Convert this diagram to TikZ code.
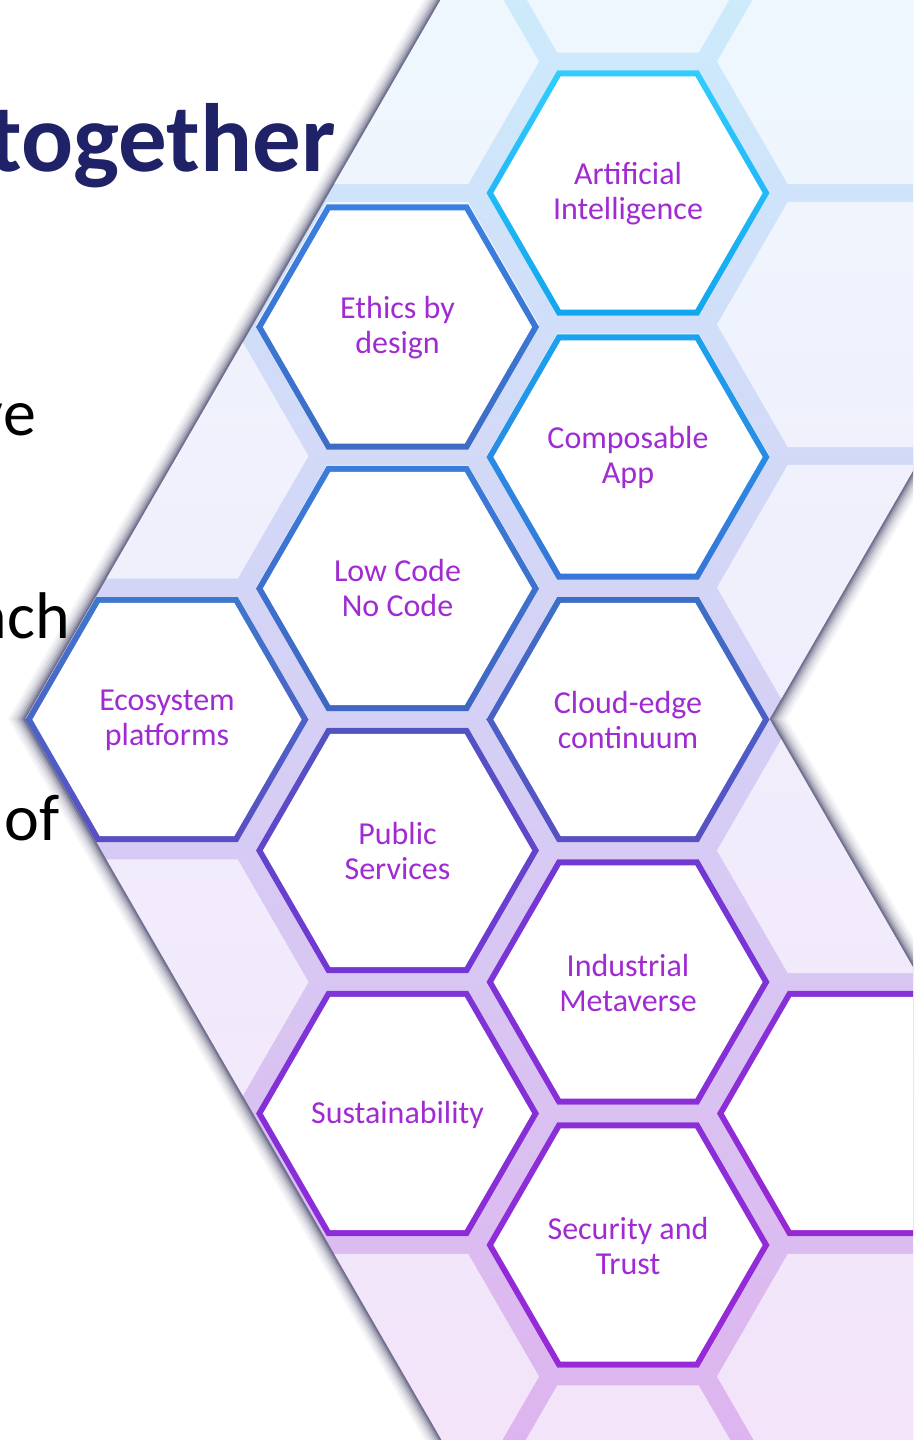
\documentclass[tikz,border=0pt]{standalone}
\usepackage{fontspec}
\setmainfont{Carlito}
\newcommand{\hexp}[3]{({#1+#3},{#2}) -- ({#1+0.5*#3},{#2+0.8660254*#3}) -- ({#1-0.5*#3},{#2+0.8660254*#3}) -- ({#1-#3},{#2}) -- ({#1-0.5*#3},{#2-0.8660254*#3}) -- ({#1+0.5*#3},{#2-0.8660254*#3}) -- cycle}
\definecolor{gapT}{HTML}{CCEDFC}
\definecolor{gapM}{HTML}{D0D9F6}
\definecolor{gapB}{HTML}{DEB2EE}
\definecolor{paleT}{HTML}{EEF8FE}
\definecolor{paleM}{HTML}{EFF0FA}
\definecolor{paleB}{HTML}{F3E3F9}
\definecolor{lblpurple}{HTML}{A12BD3}
\definecolor{navyt}{HTML}{1F2266}
\definecolor{aiT}{HTML}{33CCFF}\definecolor{aiB}{HTML}{10A6EE}
\definecolor{etT}{HTML}{3A80E2}\definecolor{etB}{HTML}{3D6CC4}
\definecolor{coT}{HTML}{1BA2F0}\definecolor{coB}{HTML}{3775D8}
\definecolor{lcT}{HTML}{3B7CDA}\definecolor{lcB}{HTML}{3F66C0}
\definecolor{ecT}{HTML}{3E78CC}\definecolor{ecB}{HTML}{5A4EC2}
\definecolor{clT}{HTML}{3E6FC8}\definecolor{clB}{HTML}{5850C4}
\definecolor{puT}{HTML}{5253C2}\definecolor{puB}{HTML}{7436D4}
\definecolor{inT}{HTML}{7238D4}\definecolor{inB}{HTML}{8A2ED8}
\definecolor{suT}{HTML}{7E34D6}\definecolor{suB}{HTML}{8C2CD8}
\definecolor{seT}{HTML}{8A2FD8}\definecolor{seB}{HTML}{9729D6}
\definecolor{hfT}{HTML}{8630D8}\definecolor{hfB}{HTML}{9828D4}
\newcommand{\hexring}[4]{%
  \shade[top color=#3, bottom color=#4] \hexp{#1}{#2}{141.5};
  \fill[white] \hexp{#1}{#2}{134.6};}
\begin{document}
\begin{tikzpicture}[x=1pt,y=-1pt,
  lbl/.style={font=\fontsize{32}{35}\selectfont, text=lblpurple, align=center, inner sep=0pt},
  sidetxt/.style={font=\fontsize{66}{80}\selectfont, text=black, inner sep=0pt, anchor=base east},
  shad/.style={black!80!blue, line join=miter}]
\useasboundingbox (0,0) rectangle (913,1440);
\begin{scope}
\clip (0,0) rectangle (913,1440);
\fill[white] (0,0) rectangle (913,1440);
\coordinate (A) at (475.3,-60);
\coordinate (B) at (1000,-60);
\coordinate (C) at (1000,319.8);
\coordinate (D) at (769.5,719);
\coordinate (E) at (1000,1118.2);
\coordinate (F) at (1000,1500);
\coordinate (G) at (476.4,1500);
\coordinate (H) at (25.5,719);
% shadow
\foreach \w/\o in {30/0.04, 25/0.05, 20/0.07, 15/0.09, 11/0.12, 7/0.16, 4/0.2}{
  \draw[shad, line width=\w, opacity=\o] (A) -- (H) -- (G);
  \draw[shad, line width=\w, opacity=\o] (C) -- (D) -- (E);
}
% band
\shade[top color=gapT, middle color=gapM, bottom color=gapB] (A) -- (B) -- (C) -- (D) -- (E) -- (F) -- (G) -- (H) -- cycle;
% pale cells
\begin{scope}
\clip (A) -- (B) -- (C) -- (D) -- (E) -- (F) -- (G) -- (H) -- cycle;
\clip foreach \cx/\cy in {167/-70,167/193,167/456,167/719,167/982,167/1245,167/1508,
  628/-70,628/193,628/456,628/719,628/982,628/1245,628/1508,
  1089/-70,1089/193,1089/456,1089/719,1089/982,1089/1245,1089/1508,
  -63.5/61.5,-63.5/324.5,-63.5/587.5,-63.5/850.5,-63.5/1113.5,-63.5/1376.5,
  397.5/61.5,397.5/324.5,397.5/587.5,397.5/850.5,397.5/1113.5,397.5/1376.5,
  858.5/61.5,858.5/324.5,858.5/587.5,858.5/850.5,858.5/1113.5,858.5/1376.5}
  { \hexp{\cx}{\cy}{141.5} };
\shade[top color=paleT, middle color=paleM, bottom color=paleB] (0,-60) rectangle (1000,1500);
\end{scope}
% main hexagons
\hexring{628}{193}{aiT}{aiB}
\hexring{397.5}{327}{etT}{etB}
\hexring{628}{457}{coT}{coB}
\hexring{397.5}{588.5}{lcT}{lcB}
\hexring{167}{719.5}{ecT}{ecB}
\hexring{628}{719.5}{clT}{clB}
\hexring{397.5}{850.5}{puT}{puB}
\hexring{628}{982}{inT}{inB}
\hexring{397.5}{1113.5}{suT}{suB}
\hexring{628}{1245}{seT}{seB}
\hexring{858.5}{1113.5}{hfT}{hfB}
% labels
\node[lbl] (ai) at (628,194) {Artificial\\Intelligence};
\node[lbl] (ethics) at (397.5,328) {Ethics by\\design};
\node[lbl] (comp) at (628,457) {Composable\\App};
\node[lbl] (lowcode) at (397.5,588) {Low Code\\No Code};
\node[lbl] (eco) at (167,720) {Ecosystem\\platforms};
\node[lbl] (cloud) at (628,720) {Cloud-edge\\continuum};
\node[lbl] (public) at (397.5,851) {Public\\Services};
\node[lbl] (indus) at (628,983) {Industrial\\Metaverse};
\node[lbl] (sust) at (397.5,1115) {Sustainability};
\node[lbl] (secu) at (628,1246) {Security and\\Trust};
% left text fragments
\node[inner sep=0pt, anchor=base east, text=navyt, font=\fontsize{97}{115}\selectfont\bfseries] (together) at (336,171) {together};
\node[sidetxt] (ve) at (36,435) {ve};
\node[sidetxt] (ach) at (70,638) {ach};
\node[sidetxt] (of) at (60,840) {of};
\end{scope}
\end{tikzpicture}
\end{document}
